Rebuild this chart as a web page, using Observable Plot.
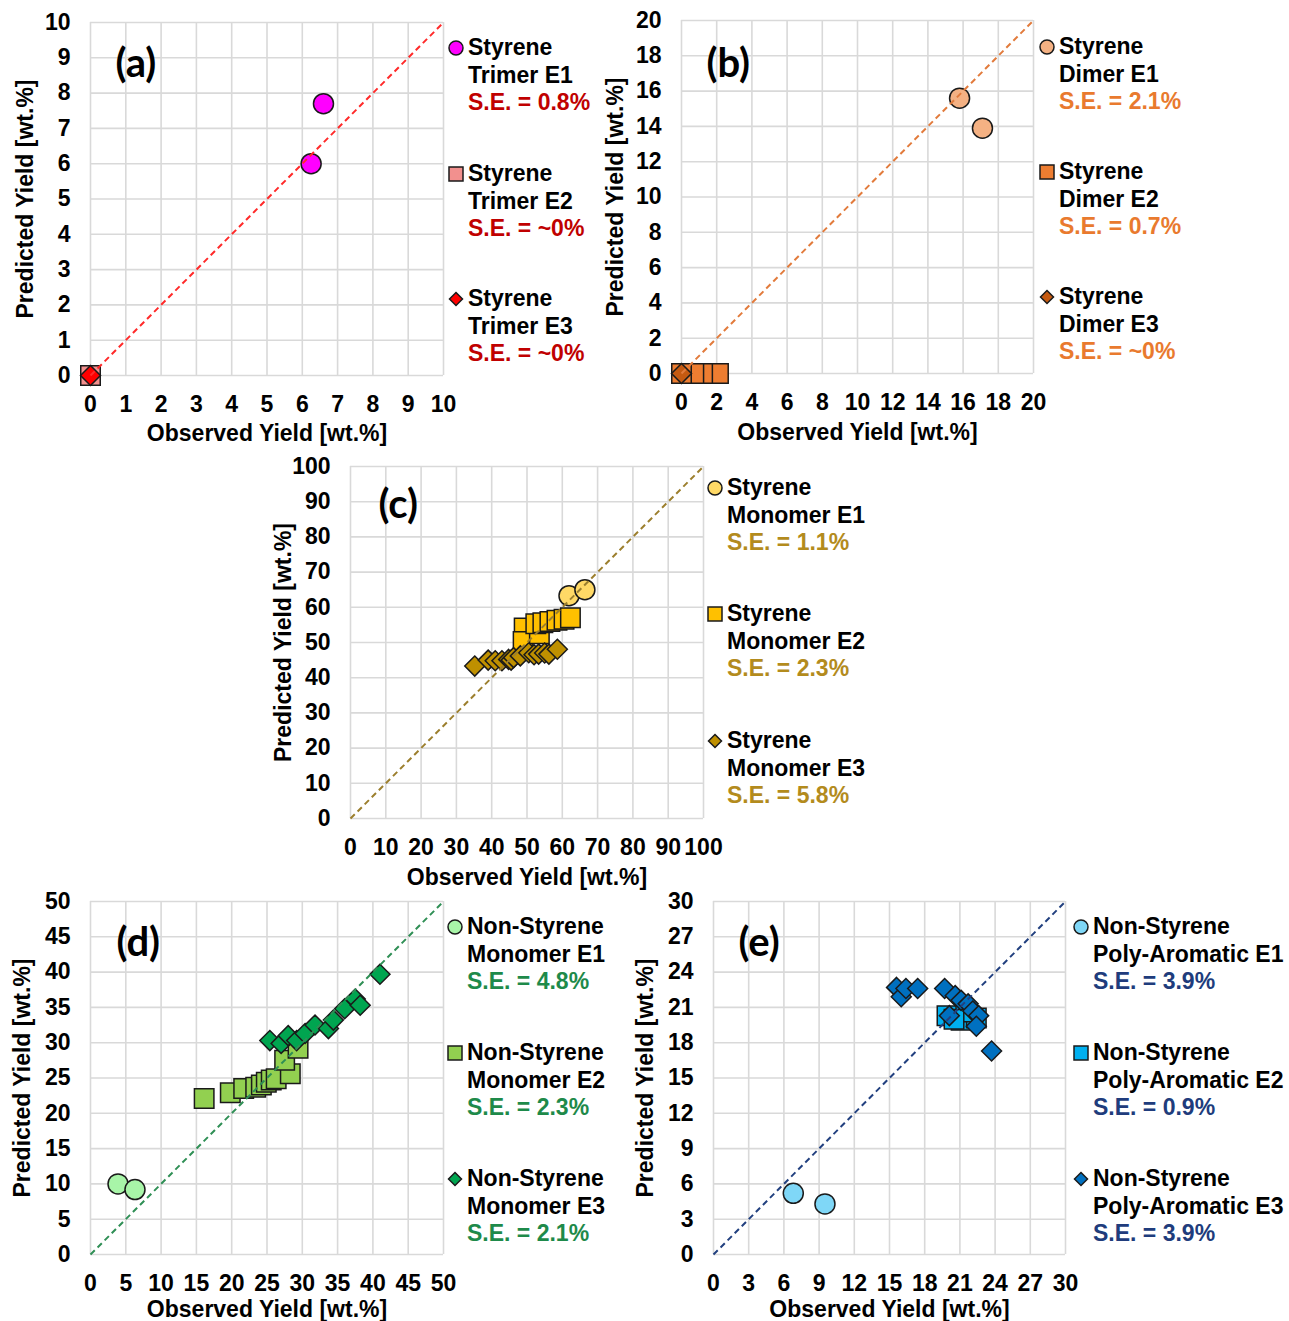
<!DOCTYPE html>
<html><head><meta charset="utf-8">
<script src="https://cdn.jsdelivr.net/npm/d3@7"></script>
<script src="https://cdn.jsdelivr.net/npm/@observablehq/plot@0.6"></script>
<style>
body{margin:0;background:#fff;}
#root{position:relative;width:1289px;height:1321px;overflow:hidden;background:#fff;font-family:"Liberation Sans",Arial,sans-serif;}
.panel{position:absolute;}
.panel svg{overflow:visible;max-width:none;}
.legend{position:absolute;font-weight:bold;font-size:23px;line-height:27.5px;color:#000;white-space:nowrap;}
.entry{position:absolute;left:0;}
.entry svg{position:absolute;}
</style></head><body><div id="root"></div>
<script>
// ---------- DATA ----------
// (a) Styrene Trimer
const trimerE1Obs = [6.25, 6.6];
const trimerE1Pred = [6.0, 7.7];
const trimerE2Obs = [0];
const trimerE2Pred = [0];
const trimerE3Obs = [0];
const trimerE3Pred = [0];
// (b) Styrene Dimer
const dimerE1Obs = [15.8, 17.1];
const dimerE1Pred = [15.6, 13.9];
const dimerE2Obs = [2.1, 1.2, 0.7, 0];
const dimerE2Pred = [0, 0, 0, 0];
const dimerE3Obs = [0];
const dimerE3Pred = [0];
// (c) Styrene Monomer
const monoE1Obs = [61.9, 66.4];
const monoE1Pred = [63.3, 65.0];
const monoE2Obs = [49.2, 48.9, 53.5, 52.5, 54.5, 56.5, 58.5, 60.5, 62.3];
const monoE2Pred = [54.1, 50.3, 52.5, 55.3, 55.6, 56.0, 56.3, 56.6, 57.0];
const monoE3Obs = [35.2, 39.0, 41.0, 42.9, 44.8, 45.5, 46.2, 48.1, 50.5, 52.0, 53.3, 55.0, 56.2, 58.6];
const monoE3Pred = [43.3, 45.0, 44.8, 44.8, 45.2, 45.0, 45.7, 46.2, 47.1, 46.5, 46.7, 47.0, 46.7, 48.1];
// (d) Non-Styrene Monomer
const nsMonoE1Obs = [3.9, 6.3];
const nsMonoE1Pred = [10.0, 9.2];
const nsMonoE2Obs = [16.1, 19.8, 21.7, 23.4, 24.2, 24.9, 25.6, 26.3, 28.3, 27.5, 29.4];
const nsMonoE2Pred = [22.1, 22.9, 23.5, 23.7, 24.0, 24.4, 24.7, 24.9, 25.6, 27.5, 29.2];
const nsMonoE3Obs = [25.4, 27.0, 28.0, 29.2, 30.4, 31.8, 33.7, 34.4, 36.0, 37.5, 38.2, 41.0];
const nsMonoE3Pred = [30.3, 29.9, 31.0, 30.3, 31.3, 32.5, 32.0, 33.2, 34.8, 36.2, 35.3, 39.7];
// (e) Non-Styrene Poly-Aromatic
const polyE1Obs = [6.8, 9.5];
const polyE1Pred = [5.2, 4.3];
const polyE2Obs = [19.9, 21.1, 22.4, 21.5, 20.5];
const polyE2Pred = [20.3, 19.9, 20.1, 20.6, 20.0];
const polyE3Obs = [15.6, 16.0, 16.4, 17.4, 19.7, 20.6, 21.1, 21.7, 22.1, 22.6, 22.4, 20.1, 23.7];
const polyE3Pred = [22.7, 21.9, 22.6, 22.6, 22.6, 22.0, 21.6, 21.3, 20.7, 20.3, 19.4, 20.3, 17.3];

// axis ranges and tick steps
const axisMax = [10, 20, 100, 50, 30];
const axisStep = [1, 2, 10, 5, 3];
const panelTags = ["(a)", "(b)", "(c)", "(d)", "(e)"];
const xTitle = "Observed Yield [wt.%]";
const yTitle = "Predicted Yield [wt.%]";

// legend texts
const legendGroup = ["Styrene", "Styrene", "Styrene", "Non-Styrene", "Non-Styrene"];
const legendNames = [
  ["Trimer E1", "Trimer E2", "Trimer E3"],
  ["Dimer E1", "Dimer E2", "Dimer E3"],
  ["Monomer E1", "Monomer E2", "Monomer E3"],
  ["Monomer E1", "Monomer E2", "Monomer E3"],
  ["Poly-Aromatic E1", "Poly-Aromatic E2", "Poly-Aromatic E3"]
];
const legendSE = [
  ["S.E. = 0.8%", "S.E. = ~0%", "S.E. = ~0%"],
  ["S.E. = 2.1%", "S.E. = 0.7%", "S.E. = ~0%"],
  ["S.E. = 1.1%", "S.E. = 2.3%", "S.E. = 5.8%"],
  ["S.E. = 4.8%", "S.E. = 2.3%", "S.E. = 2.1%"],
  ["S.E. = 3.9%", "S.E. = 0.9%", "S.E. = 3.9%"]
];

// ---------- STYLE ----------
const fills = [
  ["#FF00FF", "#F2908E", "#FF0000"],
  ["#F4B183", "#ED7D31", "#C55A11"],
  ["#FFD966", "#FFC000", "#BF9000"],
  ["#A8F5A8", "#92D050", "#00A550"],
  ["#7FD7F7", "#00B0F0", "#0070C0"]
];
const seColors = ["#C00000", "#E97A2E", "#B38B1D", "#1E8A4A", "#203C7C"];
const lineColors = ["#FF2A2A", "#E27B3C", "#9C7F2E", "#2F8F55", "#22407F"];
const symbols = ["circle", "square", "diamond2"];
const symR = {circle: 10, square: 11, diamond2: 9};

const seriesData = [
  [[trimerE1Obs, trimerE1Pred], [trimerE2Obs, trimerE2Pred], [trimerE3Obs, trimerE3Pred]],
  [[dimerE1Obs, dimerE1Pred], [dimerE2Obs, dimerE2Pred], [dimerE3Obs, dimerE3Pred]],
  [[monoE1Obs, monoE1Pred], [monoE2Obs, monoE2Pred], [monoE3Obs, monoE3Pred]],
  [[nsMonoE1Obs, nsMonoE1Pred], [nsMonoE2Obs, nsMonoE2Pred], [nsMonoE3Obs, nsMonoE3Pred]],
  [[polyE1Obs, polyE1Pred], [polyE2Obs, polyE2Pred], [polyE3Obs, polyE3Pred]]
];

// layout: [left, top, width, height, mL, mT, mR, mB]
const layout = [
  [0, 0, 453, 450, 90, 22, 10, 75],
  [600, 0, 443, 448, 81, 20, 10, 75],
  [260, 440, 463, 453, 90, 26, 20, 75],
  [0, 870, 453, 451, 90, 31, 10, 67],
  [620, 870, 460, 451, 93, 31, 15, 67]
];
const tagPos = [[25, 42], [25, 44], [28, 39], [26, 42], [25, 42]];
const xTitleDy = [58, 59, 59, 55, 55];
const yTitleDx = [-65, -66, -67, -68, -68];
// legend: [textLeft, firstLineCenters...]
const legendPos = [
  [468, [48, 174, 299]],
  [1059, [47, 172, 297]],
  [727, [488, 614, 741]],
  [467, [927, 1053, 1179]],
  [1093, [927, 1053, 1179]]
];

const root = document.getElementById("root");
const font = '"Liberation Sans", Arial, sans-serif';

for (let p = 0; p < 5; p++) {
  const [left, top, width, height, mL, mT, mR, mB] = layout[p];
  const max = axisMax[p], step = axisStep[p];
  const ticks = d3.range(0, max + step / 2, step);
  const marks = [
    Plot.gridX(ticks, {stroke: "#d9d9d9", strokeOpacity: 1, strokeWidth: 1.6}),
    Plot.gridY(ticks, {stroke: "#d9d9d9", strokeOpacity: 1, strokeWidth: 1.6}),
    Plot.axisX(ticks, {tickSize: 0, tickPadding: 20, label: null, fill: "#000"}),
    Plot.axisY(ticks, {tickSize: 0, tickPadding: 20, label: null, fill: "#000"})
  ];
  seriesData[p].forEach(([obs, pred], k) => {
    const rows = obs.map((o, i) => ({x: o, y: pred[i]}));
    marks.push(Plot.dot(rows, {
      x: "x", y: "y", symbol: symbols[k], r: symR[symbols[k]],
      fill: fills[p][k], fillOpacity: 1, stroke: "#1a1a1a", strokeWidth: 1.5
    }));
  });
  marks.push(Plot.link([max], {
    x1: () => 0, y1: () => 0, x2: d => d, y2: d => d,
    stroke: lineColors[p], strokeWidth: 2, strokeDasharray: "6,4"
  }));
  marks.push(Plot.text([xTitle], {frameAnchor: "bottom", dy: xTitleDy[p], lineAnchor: "middle", fill: "#000", fontSize: 23}));
  marks.push(Plot.text([yTitle], {frameAnchor: "left", dx: yTitleDx[p], rotate: -90, textAnchor: "middle", lineAnchor: "middle", fill: "#000", fontSize: 23}));
  marks.push(Plot.text([panelTags[p]], {
    frameAnchor: "top-left", dx: tagPos[p][0], dy: tagPos[p][1], textAnchor: "start", lineAnchor: "middle",
    fontSize: 40, fontWeight: "bold", fontFamily: "Lato, 'Open Sans', sans-serif", fill: "#000"
  }));

  const chart = Plot.plot({
    width, height, marginLeft: mL, marginTop: mT, marginRight: mR, marginBottom: mB,
    x: {domain: [0, max]}, y: {domain: [0, max]},
    style: {fontFamily: font, fontSize: "23px", fontWeight: "bold", background: "transparent", overflow: "visible", color: "#000"},
    marks
  });
  const div = document.createElement("div");
  div.className = "panel";
  div.style.left = left + "px";
  div.style.top = top + "px";
  div.style.width = width + "px";
  div.style.height = height + "px";
  div.appendChild(chart);
  root.appendChild(div);

  // legend
  const [tl, centers] = legendPos[p];
  const leg = document.createElement("div");
  leg.className = "legend";
  leg.style.left = tl + "px";
  leg.style.top = "0px";
  for (let k = 0; k < 3; k++) {
    const e = document.createElement("div");
    e.className = "entry";
    e.style.top = (centers[k] - 13.75) + "px";
    const sym = symbols[k];
    let shape;
    if (sym === "circle") shape = `<circle cx="9" cy="9" r="7" fill="${fills[p][k]}" stroke="#1a1a1a" stroke-width="1.5"/>`;
    else if (sym === "square") shape = `<rect x="2" y="2" width="14" height="14" fill="${fills[p][k]}" stroke="#1a1a1a" stroke-width="1.5"/>`;
    else shape = `<path d="M9,2.5L15.5,9L9,15.5L2.5,9Z" fill="${fills[p][k]}" stroke="#1a1a1a" stroke-width="1.5"/>`;
    e.innerHTML = `<svg width="18" height="18" style="left:-21px;top:4.75px">${shape}</svg>` +
      `<div>${legendGroup[p]}</div><div>${legendNames[p][k]}</div><div style="color:${seColors[p]}">${legendSE[p][k]}</div>`;
    leg.appendChild(e);
  }
  root.appendChild(leg);
}
</script></body></html>
